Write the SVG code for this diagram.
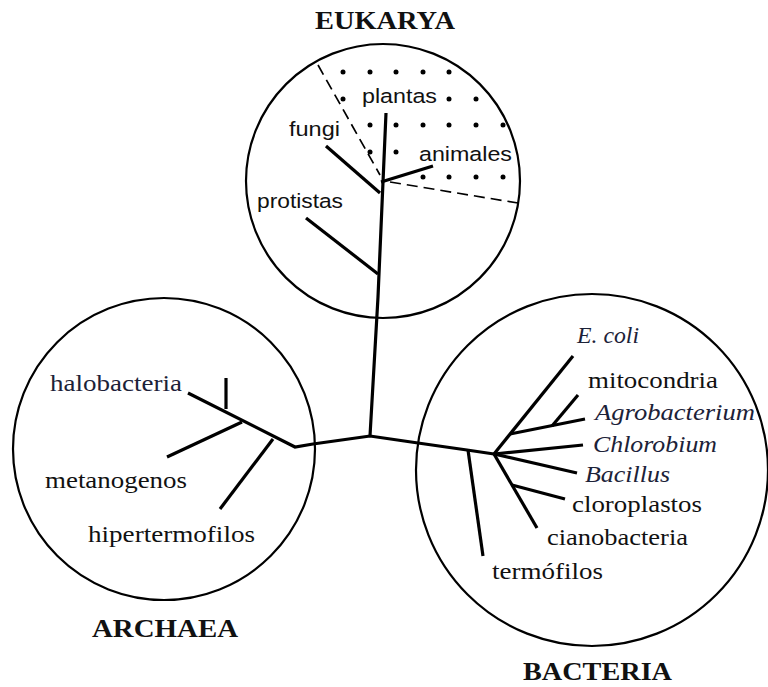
<svg xmlns="http://www.w3.org/2000/svg" width="768" height="687" viewBox="0 0 768 687">
<style>
.c{fill:none;stroke:#000;stroke-width:2.2}
.b{fill:none;stroke:#000;stroke-width:3.2;stroke-linecap:butt}
.d{fill:none;stroke:#000;stroke-width:1.7;stroke-dasharray:11 6}
.s{font-family:"Liberation Sans",Arial,sans-serif;font-size:20.5px;fill:#111}
.t{font-family:"Liberation Serif","Times New Roman",serif;font-size:22.5px;fill:#111}
.i{font-family:"Liberation Serif","Times New Roman",serif;font-size:22.5px;font-style:italic;fill:#1c2238}
.h{font-family:"Liberation Serif","Times New Roman",serif;font-size:26px;font-weight:bold;fill:#111}
</style>
<rect width="768" height="687" fill="#fff"/>
<g id="eukarya">
<circle class="c" cx="383" cy="181" r="137"/>
<line class="d" x1="318" y1="65" x2="380" y2="175"/>
<line class="d" x1="390" y1="182" x2="518" y2="203"/>
<g fill="#000">
<circle cx="343" cy="72" r="2.5"/><circle cx="370" cy="72" r="2.5"/><circle cx="396" cy="72" r="2.5"/><circle cx="423" cy="72" r="2.5"/><circle cx="449" cy="72" r="2.5"/>
<circle cx="343" cy="99" r="2.5"/><circle cx="449" cy="99" r="2.5"/><circle cx="476" cy="99" r="2.5"/>
<circle cx="370" cy="125" r="2.5"/><circle cx="396" cy="125" r="2.5"/><circle cx="423" cy="125" r="2.5"/><circle cx="449" cy="125" r="2.5"/><circle cx="476" cy="125" r="2.5"/><circle cx="503" cy="125" r="2.5"/>
<circle cx="370" cy="152" r="2.5"/><circle cx="396" cy="152" r="2.5"/>
<circle cx="423" cy="177" r="2.5"/><circle cx="449" cy="177" r="2.5"/><circle cx="476" cy="177" r="2.5"/><circle cx="503" cy="177" r="2.5"/>
</g>
<text class="h" x="315" y="29" textLength="140" lengthAdjust="spacingAndGlyphs">EUKARYA</text>
<text class="s" x="362" y="103" textLength="75" lengthAdjust="spacingAndGlyphs">plantas</text>
<text class="s" x="289" y="136" textLength="51" lengthAdjust="spacingAndGlyphs">fungi</text>
<text class="s" x="419" y="161" textLength="93" lengthAdjust="spacingAndGlyphs">animales</text>
<text class="s" x="257" y="208" textLength="86" lengthAdjust="spacingAndGlyphs">protistas</text>
</g>
<g id="archaea">
<circle class="c" cx="164" cy="449" r="151"/>
<text class="h" x="92" y="637" textLength="146" lengthAdjust="spacingAndGlyphs">ARCHAEA</text>
<text class="i" x="50" y="391" style="font-style:normal" textLength="132" lengthAdjust="spacingAndGlyphs">halobacteria</text>
<text class="t" x="45" y="488" textLength="142" lengthAdjust="spacingAndGlyphs">metanogenos</text>
<text class="t" x="88" y="542" textLength="167" lengthAdjust="spacingAndGlyphs">hipertermofilos</text>
</g>
<g id="bacteria">
<circle class="c" cx="592" cy="470" r="176"/>
<text class="h" x="523" y="680" textLength="149" lengthAdjust="spacingAndGlyphs">BACTERIA</text>
<text class="i" x="577" y="343" textLength="62" lengthAdjust="spacingAndGlyphs">E. coli</text>
<text class="t" x="588" y="388" textLength="130" lengthAdjust="spacingAndGlyphs">mitocondria</text>
<text class="i" x="595" y="420" textLength="160" lengthAdjust="spacingAndGlyphs">Agrobacterium</text>
<text class="i" x="593" y="452" textLength="124" lengthAdjust="spacingAndGlyphs">Chlorobium</text>
<text class="i" x="585" y="482" textLength="85" lengthAdjust="spacingAndGlyphs">Bacillus</text>
<text class="t" x="572" y="512" textLength="130" lengthAdjust="spacingAndGlyphs">cloroplastos</text>
<text class="t" x="547" y="545" textLength="141" lengthAdjust="spacingAndGlyphs">cianobacteria</text>
<text class="t" x="492" y="579" textLength="111" lengthAdjust="spacingAndGlyphs">termófilos</text>
</g>
<g id="connectors">
<polyline class="b" points="386,113 378,297 370,436"/>
<line class="b" x1="326" y1="146" x2="380" y2="193"/>
<line class="b" x1="381" y1="182" x2="433" y2="166"/>
<line class="b" x1="306" y1="218" x2="378" y2="274"/>
<polyline class="b" points="188,393 295,447 313,444 370,436 418,443 467,450 494,454"/>
<line class="b" x1="226" y1="378" x2="226" y2="409"/>
<line class="b" x1="167" y1="457" x2="242" y2="422"/>
<line class="b" x1="220" y1="509" x2="273" y2="439"/>
<line class="b" x1="468" y1="450" x2="483" y2="556"/>
<line class="b" x1="573" y1="356" x2="494" y2="454"/>
<line class="b" x1="510" y1="434" x2="585" y2="419"/>
<line class="b" x1="552" y1="426" x2="578" y2="395"/>
<line class="b" x1="494" y1="454" x2="583" y2="445"/>
<line class="b" x1="494" y1="454" x2="577" y2="473"/>
<line class="b" x1="494" y1="454" x2="537" y2="528"/>
<line class="b" x1="512" y1="485" x2="565" y2="499"/>
</g>
</svg>
